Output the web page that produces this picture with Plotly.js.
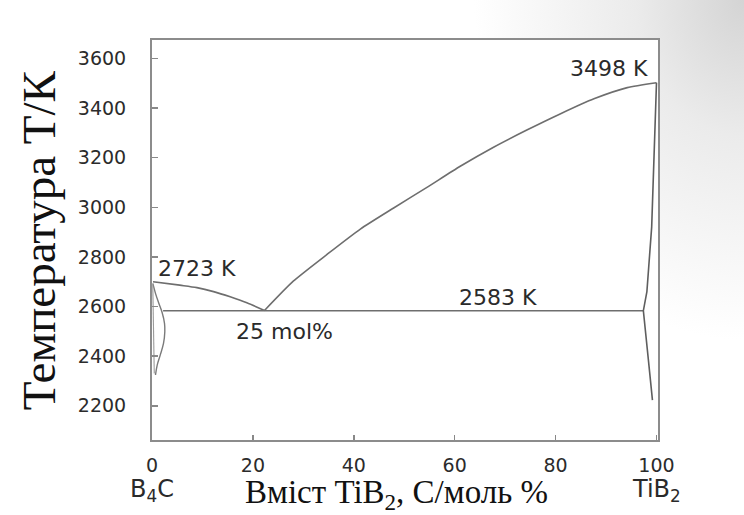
<!DOCTYPE html>
<html>
<head>
<meta charset="utf-8">
<script src="https://cdn.plot.ly/plotly-3.0.1.min.js"></script>
<style>
  html, body { margin: 0; padding: 0; }
  body {
    width: 744px; height: 515px; overflow: hidden;
    background: radial-gradient(ellipse 270px 340px at 100% 0%, #d4d4d4 0%, #ebebeb 40%, #ffffff 100%);
  }
  #chart { width: 744px; height: 515px; }
</style>
</head>
<body>
<div id="chart"></div>
<script>
// ---- Data ----
// Liquidus, B4C side (mol % TiB2, temperature K)
const liqLeftX = [0.2, 5.5, 8.9, 12.2, 15.5, 18.8, 22.3];
const liqLeftT = [2700, 2686, 2676, 2660, 2639, 2615, 2584];
// Liquidus, TiB2 side
const liqRightX = [22.3, 28.0, 34.7, 41.3, 47.9, 54.5, 61.1, 67.7, 74.3, 81.0, 87.6, 94.2, 100];
const liqRightT = [2584, 2702, 2810, 2912, 2997, 3080, 3165, 3242, 3311, 3377, 3437, 3482, 3502];
// Eutectic isotherm
const eutX = [2.2, 97.4];
const eutT = [2583, 2583];
// Solidus / solvus, B4C side
const solLeftX = [0.16, 0.69, 1.35, 2.02, 2.48, 2.54, 2.28, 1.63, 1.03, 0.69];
const solLeftT = [2693, 2653, 2613, 2575, 2532, 2498, 2451, 2404, 2364, 2324];
// Inner line, B4C side
const innerLeftX = [0.15, 0.45];
const innerLeftT = [2690, 2330];
// Solidus / solvus, TiB2 side
const solRightX = [100, 99.7, 99.05, 98.1, 97.4, 98.4, 99.2];
const solRightT = [3502, 3324, 2921, 2660, 2583, 2384, 2223];

const xTicks = [0, 20, 40, 60, 80, 100];
const yTicks = [2200, 2400, 2600, 2800, 3000, 3200, 3400, 3600];

function tr(x, y, line) {
  return {x: x, y: y, mode: 'lines', line: line, hoverinfo: 'skip', showlegend: false};
}

const traces = [
  tr(liqLeftX, liqLeftT, {shape: 'spline', smoothing: 0.8, color: '#6e6e6e', width: 1.6}),
  tr(liqRightX, liqRightT, {shape: 'spline', smoothing: 0.6, color: '#6e6e6e', width: 1.6}),
  tr(eutX, eutT, {color: '#6e6e6e', width: 1.6}),
  tr(solLeftX, solLeftT, {shape: 'spline', color: '#7a7a7a', width: 1.4}),
  tr(innerLeftX, innerLeftT, {color: '#9a9a9a', width: 1.1}),
  tr(solRightX, solRightT, {color: '#5e5e5e', width: 1.6})
];

const tickFont = {family: 'DejaVu Sans, sans-serif', size: 19, color: '#2b2b2b'};
const annFont = {family: 'DejaVu Sans, sans-serif', size: 22, color: '#2a2a2a'};

const layout = {
  width: 744, height: 515,
  margin: {l: 152, r: 86, t: 40, b: 75},
  paper_bgcolor: 'rgba(0,0,0,0)',
  plot_bgcolor: '#ffffff',
  showlegend: false,
  xaxis: {
    range: [0, 100.3],
    tickvals: xTicks, ticktext: xTicks.map(String),
    ticks: 'inside', ticklen: 5, tickwidth: 1.5, tickcolor: '#888888',
    showline: true, linecolor: '#8c8c8c', linewidth: 2, mirror: true,
    showgrid: false, zeroline: false,
    tickfont: tickFont, ticklabelstandoff: 7
  },
  yaxis: {
    range: [2062, 3674],
    tickvals: yTicks, ticktext: yTicks.map(String),
    ticks: 'inside', ticklen: 6, tickwidth: 1.5, tickcolor: '#888888',
    showline: true, linecolor: '#8c8c8c', linewidth: 2, mirror: true,
    showgrid: false, zeroline: false,
    tickfont: tickFont, ticklabelstandoff: 20
  },
  annotations: [
    {text: '2723 K', x: 0.7, y: 2755, xref: 'x', yref: 'y', xanchor: 'left', yanchor: 'middle', showarrow: false, font: annFont},
    {text: '25 mol%', x: 16.3, y: 2501, xref: 'x', yref: 'y', xanchor: 'left', yanchor: 'middle', showarrow: false, font: annFont},
    {text: '2583 K', x: 60.5, y: 2638, xref: 'x', yref: 'y', xanchor: 'left', yanchor: 'middle', showarrow: false, font: annFont},
    {text: '3498 K', x: 98.8, y: 3561, xref: 'x', yref: 'y', xanchor: 'right', yanchor: 'middle', showarrow: false, font: annFont},
    {text: 'B<sub>4</sub>C', x: 0, y: -0.126, xref: 'x', yref: 'paper', xanchor: 'center', yanchor: 'middle', showarrow: false,
     font: {family: 'DejaVu Sans, sans-serif', size: 24, color: '#2a2a2a'}},
    {text: 'TiB<sub>2</sub>', x: 100, y: -0.126, xref: 'x', yref: 'paper', xanchor: 'center', yanchor: 'middle', showarrow: false,
     font: {family: 'DejaVu Sans, sans-serif', size: 24, color: '#2a2a2a'}},
    {text: 'Вміст TiB<sub>2</sub>, С/моль %', x: 0.4827, y: -0.137, xref: 'paper', yref: 'paper', xanchor: 'center', yanchor: 'middle', showarrow: false,
     font: {family: 'Liberation Serif, Times New Roman, serif', size: 33, color: '#111111'}},
    {text: 'Температура Т/К', x: -0.2226, y: 0.5, xref: 'paper', yref: 'paper', xanchor: 'center', yanchor: 'middle', showarrow: false, textangle: -90,
     font: {family: 'Liberation Serif, Times New Roman, serif', size: 47, color: '#111111'}}
  ]
};

Plotly.newPlot('chart', traces, layout, {displayModeBar: false, staticPlot: true});
</script>
</body>
</html>
